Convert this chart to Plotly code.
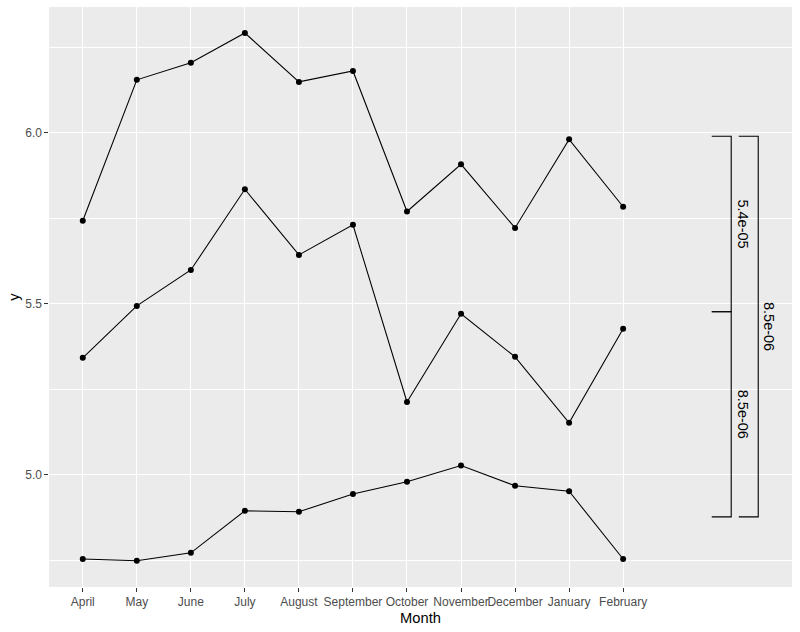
import plotly.graph_objects as go

months = ["April", "May", "June", "July", "August", "September", "October",
          "November", "December", "January", "February"]

series_top = [5.743, 6.155, 6.205, 6.292, 6.149, 6.181, 5.770, 5.908, 5.722, 5.981, 5.784]
series_mid = [5.342, 5.494, 5.599, 5.835, 5.643, 5.731, 5.213, 5.471, 5.345, 5.152, 5.427]
series_low = [4.754, 4.749, 4.772, 4.895, 4.892, 4.944, 4.980, 5.027, 4.968, 4.952, 4.754]

# significance brackets (x position on the month index scale)
bracket_x = [12.0, 12.0, 12.5]
bracket_ymin = [5.477, 4.877, 4.877]
bracket_ymax = [5.990, 5.477, 5.990]
bracket_labels = ["5.4e-05", "8.5e-06", "8.5e-06"]
tip = 0.36
label_offset = 0.21

FONT = "Liberation Sans, Arial, sans-serif"
xs = list(range(len(months)))

fig = go.Figure()
for s in [series_top, series_mid, series_low]:
    fig.add_trace(go.Scatter(
        x=xs, y=s, mode="lines+markers",
        line=dict(color="black", width=1.07),
        marker=dict(color="black", size=6),
        showlegend=False, hoverinfo="skip"))

for bx, y0, y1, lab in zip(bracket_x, bracket_ymin, bracket_ymax, bracket_labels):
    fig.add_trace(go.Scatter(
        x=[bx - tip, bx, bx, bx - tip], y=[y1, y1, y0, y0],
        mode="lines", line=dict(color="black", width=1.1),
        showlegend=False, hoverinfo="skip"))
    fig.add_annotation(
        x=bx + label_offset, y=(y0 + y1) / 2, xref="x", yref="y",
        text=lab, showarrow=False, textangle=90,
        font=dict(family=FONT, size=14.5, color="black"))

fig.update_layout(
    width=800, height=632,
    margin=dict(l=49, r=8, t=7, b=45),
    paper_bgcolor="white", plot_bgcolor="#EBEBEB",
    font=dict(family=FONT),
)
fig.update_xaxes(
    range=[-0.625, 13.125], tickmode="array", tickvals=xs, ticktext=months,
    tickangle=0, automargin=False,
    showgrid=True, gridcolor="white", gridwidth=1.07, zeroline=False,
    ticks="outside", ticklen=3.7, tickcolor="#333333", tickwidth=1.07,
    tickfont=dict(family=FONT, size=12, color="#4D4D4D"),
    title=dict(text="Month", font=dict(family=FONT, size=14.7, color="black"), standoff=4),
    showline=False,
)
fig.update_yaxes(
    range=[4.672, 6.368], tickmode="array", tickvals=[5.0, 5.5, 6.0],
    ticktext=["5.0", "5.5", "6.0"], automargin=False,
    showgrid=True, gridcolor="white", gridwidth=1.07, zeroline=False,
    minor=dict(tickmode="array", tickvals=[4.75, 5.25, 5.75, 6.25],
               showgrid=True, gridcolor="white", gridwidth=0.53, ticks=""),
    ticks="outside", ticklen=3.7, tickcolor="#333333", tickwidth=1.07,
    tickfont=dict(family=FONT, size=12, color="#4D4D4D"),
    title=dict(text="y", font=dict(family=FONT, size=14.7, color="black"), standoff=2),
    showline=False,
)

fig.write_html("out.html")
